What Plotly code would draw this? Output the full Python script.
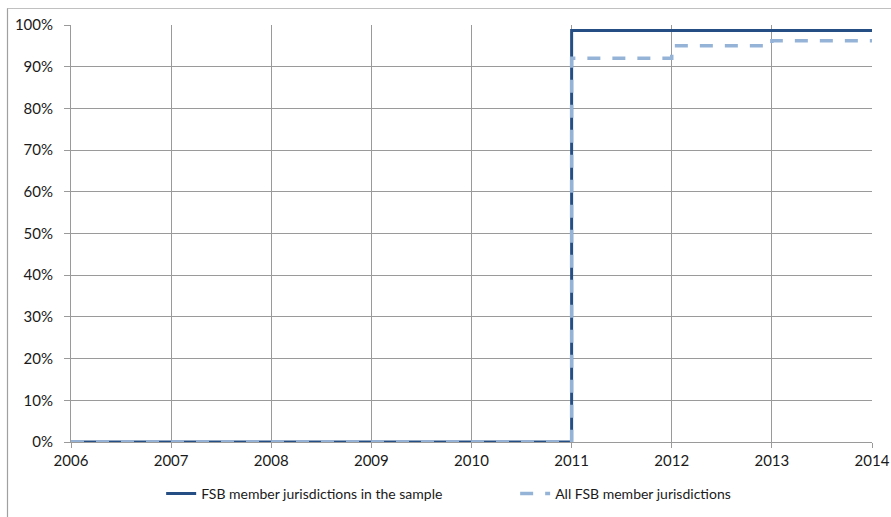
import plotly.graph_objects as go

years = [2006, 2007, 2008, 2009, 2010, 2011, 2012, 2013, 2014]
sample_share = [0, 0, 0, 0, 0, 0.987, 0.987, 0.987, 0.987]
all_share = [0, 0, 0, 0, 0, 0.92, 0.95, 0.962, 0.962]
series_names = ["FSB member jurisdictions in the sample", "All FSB member jurisdictions"]

dark = "#254e84"
light = "#95b3d7"
grid = "#9a9a9a"
font = dict(family="Lato, Calibri, Arial, sans-serif", size=15, color="#1a1a1a")
legend_font = dict(family="Lato, Calibri, Arial, sans-serif", size=14, color="#1a1a1a")

fig = go.Figure()
fig.add_trace(go.Scatter(x=years, y=sample_share, mode="lines", line_shape="hv",
                         name=series_names[0], line=dict(color=dark, width=3)))
fig.add_trace(go.Scatter(x=years, y=all_share, mode="lines", line_shape="hv",
                         name=series_names[1], line=dict(color=light, width=3.5, dash="13px,12px")))

# outer chart frame (top and left visible)
L, R, T, B = 71, 872, 25, 442
def px_x(p):
    return (p - L) / (R - L)
def px_y(p):
    return (B - p) / (B - T)
fig.add_shape(type="line", xref="paper", yref="paper", x0=px_x(7), x1=px_x(900), y0=px_y(8.5), y1=px_y(8.5),
              line=dict(color="#c0c0c0", width=1.2))
fig.add_shape(type="line", xref="paper", yref="paper", x0=px_x(7.5), x1=px_x(7.5), y0=px_y(8.5), y1=px_y(530),
              line=dict(color="#a0a0a0", width=1.2))

fig.update_layout(
    width=891, height=517,
    margin=dict(l=L, r=891 - R, t=T, b=517 - B, autoexpand=False),
    paper_bgcolor="white", plot_bgcolor="white",
    font=font,
    showlegend=True,
    legend=dict(orientation="h", x=0.5545, xanchor="center", y=px_y(494), yanchor="middle",
                font=legend_font, entrywidth=309, bgcolor="rgba(0,0,0,0)"),
    xaxis=dict(range=[2006, 2014], tickmode="array", tickvals=years, ticktext=[str(y) for y in years],
               showgrid=True, gridcolor=grid, gridwidth=1, showline=True, linecolor=grid,
               ticks="outside", ticklen=5, tickcolor=grid, zeroline=False, fixedrange=True),
    yaxis=dict(range=[0, 1], tickformat=".0%", dtick=0.1, showgrid=True, gridcolor=grid, gridwidth=1,
               showline=True, linecolor=grid, ticks="outside", ticklen=6, tickcolor=grid,
               ticklabelstandoff=8, zeroline=False, fixedrange=True),
)

fig.write_html("out.html", config={"displayModeBar": False},
               post_script="document.body.style.margin='0px';document.body.style.overflow='hidden';")
